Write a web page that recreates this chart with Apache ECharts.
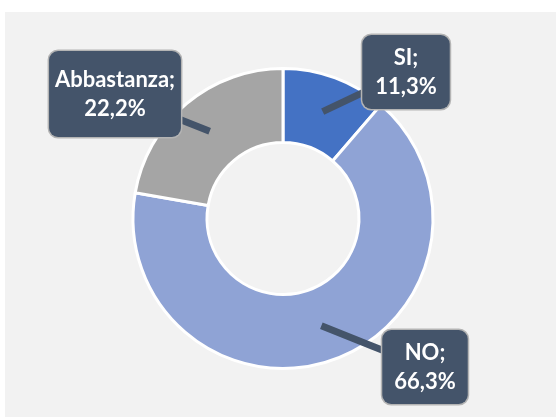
<!DOCTYPE html>
<html>
<head>
<meta charset="utf-8">
<script src="https://cdn.jsdelivr.net/npm/echarts@6/dist/echarts.min.js"></script>
<style>
  html, body { margin: 0; padding: 0; background: #ffffff; }
  #panel { position: absolute; left: 5px; top: 12px; width: 551px; height: 405px; background: #f2f2f2; }
  #main { position: absolute; left: 0; top: 0; width: 556px; height: 417px; }
</style>
</head>
<body>
<div id="panel"></div>
<div id="main"></div>
<script>
const categories = ["SI", "NO", "Abbastanza"];
const values = [11.3, 66.3, 22.2];
const colors = ["#4472c4", "#8fa3d5", "#a5a5a5"];

// dove stanno i riquadri delle etichette (centro) e il padding
const labelBoxes = [
  { x: 406, y: 72, pad: [8, 13] },
  { x: 425, y: 367, pad: [8, 12] },
  { x: 115, y: 94, pad: [14, 17] }
];

const center = [283, 218.5];
const radius = [76, 150];
const tipRadius = 114;

let chart = echarts.init(document.getElementById("main"));

// angolo medio di ogni fetta, partendo dall'alto in senso orario
const total = values.reduce((a, b) => a + b, 0);
let acc = 0;
const midAngles = values.map(v => {
  const mid = (acc + v / 2) / total * Math.PI * 2;
  acc += v;
  return mid;
});

const pieData = categories.map((c, i) => ({ name: c, value: values[i] }));

let option = {
  backgroundColor: "transparent",
  series: [
    {
      // le fette
      type: "pie",
      center: center,
      radius: radius,
      startAngle: 90,
      silent: true,
      label: { show: false },
      labelLine: { show: false },
      itemStyle: {
        borderColor: "#ffffff",
        borderWidth: 3
      },
      data: pieData.map((d, i) => ({ ...d, itemStyle: { color: colors[i] } }))
    },
    {
      // solo le etichette a fumetto, sopra le fette
      type: "pie",
      z: 3,
      center: center,
      radius: radius,
      startAngle: 90,
      silent: true,
      itemStyle: { color: "rgba(0,0,0,0)", borderWidth: 0 },
      label: {
        show: true,
        position: "outside",
        overflow: "none",
        formatter: p => `${p.name};\n${p.value.toFixed(1).replace(".", ",")}%`,
        color: "#ffffff",
        fontFamily: "Lato",
        fontWeight: "bold",
        fontSize: 22,
        lineHeight: 29,
        align: "center",
        backgroundColor: "#44546a",
        borderColor: "#b4b4b4",
        borderWidth: 1.5,
        borderRadius: 9
      },
      labelLine: {
        show: true,
        lineStyle: { color: "#44546a", width: 7 }
      },
      labelLayout: function (params) {
        const i = params.dataIndex;
        const a = midAngles[i];
        const tip = [center[0] + tipRadius * Math.sin(a), center[1] - tipRadius * Math.cos(a)];
        const box = labelBoxes[i];
        return {
          x: box.x,
          y: box.y,
          align: "center",
          verticalAlign: "middle",
          labelLinePoints: [tip, [(tip[0] + box.x) / 2, (tip[1] + box.y) / 2], [box.x, box.y]]
        };
      },
      data: pieData.map((d, i) => ({ ...d, label: { padding: labelBoxes[i].pad } }))
    }
  ]
};
chart.setOption(option);
</script>
</body>
</html>
